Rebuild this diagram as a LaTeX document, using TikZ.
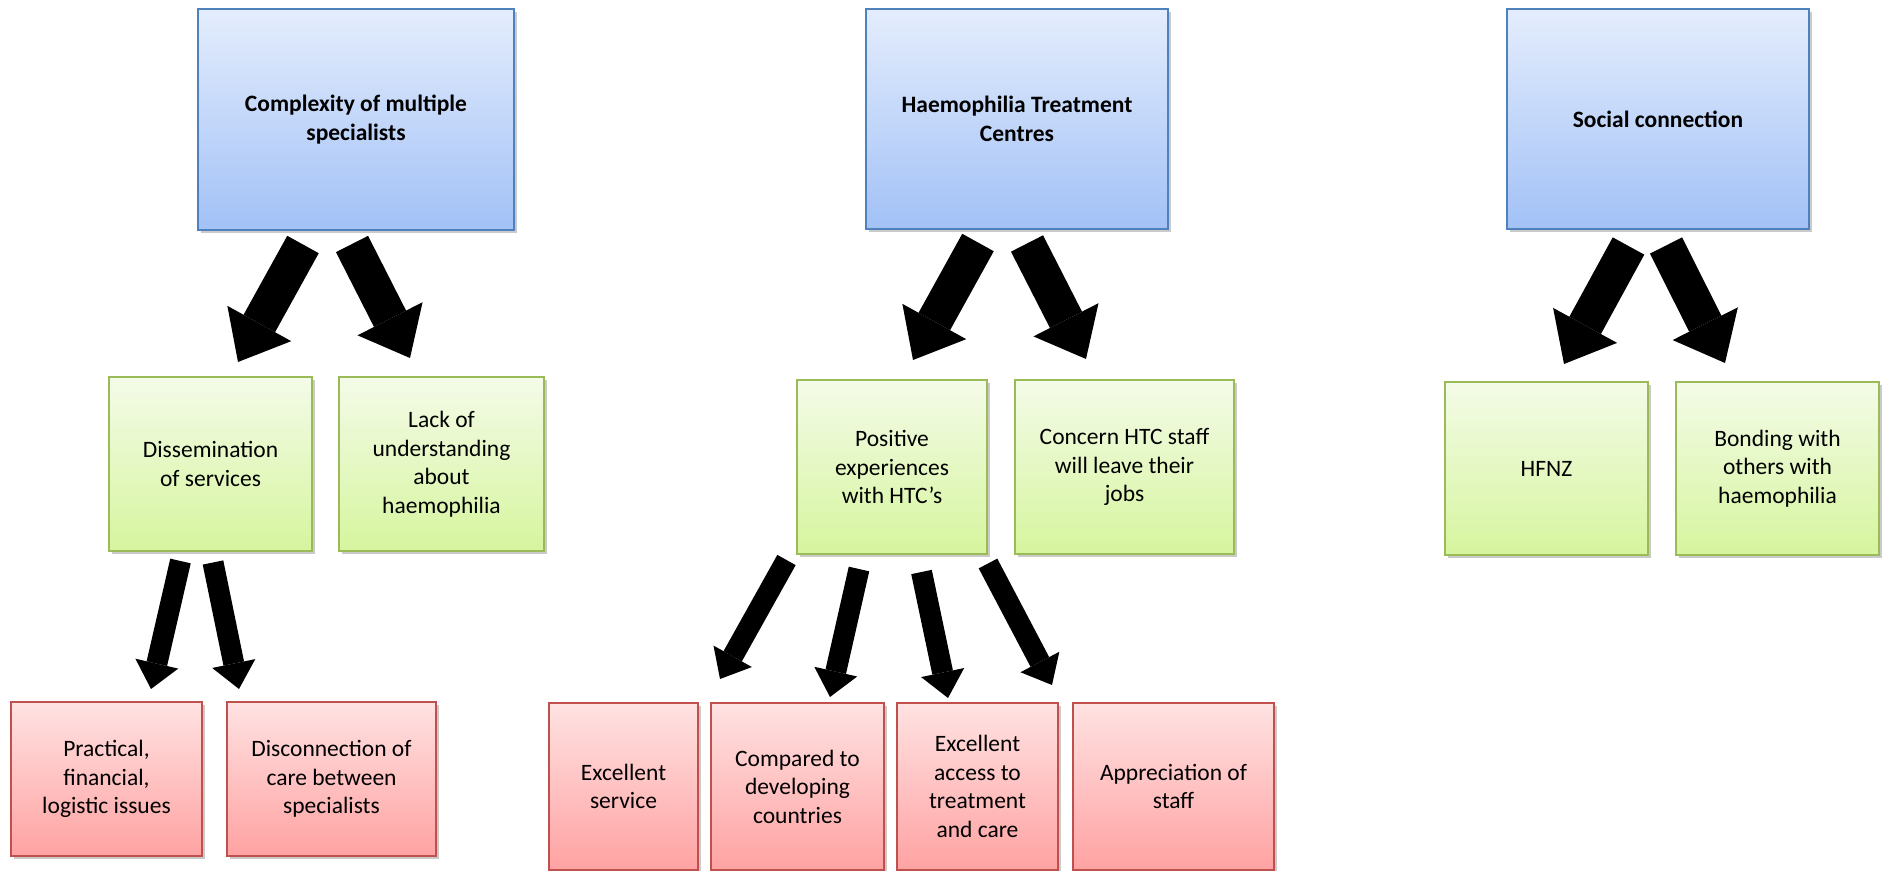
\documentclass[tikz,border=0pt]{standalone}
\usepackage{fontspec}
\setmainfont{Carlito}
\usepackage{tikz}
\usetikzlibrary{arrows.meta, positioning, shadows}
\definecolor{themeTop}{RGB}{228,237,253}
\definecolor{themeBottom}{RGB}{162,193,246}
\definecolor{themeLine}{RGB}{79,129,189}
\definecolor{subTop}{RGB}{244,251,232}
\definecolor{subBottom}{RGB}{214,245,158}
\definecolor{subLine}{RGB}{155,187,89}
\definecolor{leafTop}{RGB}{255,226,226}
\definecolor{leafBottom}{RGB}{255,162,162}
\definecolor{leafLine}{RGB}{192,80,77}
\tikzset{
  box/.style={
    line width=1pt,
    align=center,
    inner sep=2pt,
    font=\fontsize{11.75pt}{14.25pt}\selectfont,
    drop shadow={shadow xshift=1.5pt, shadow yshift=-1.5pt, opacity=.42}
  },
  themeBox/.style={box, draw=themeLine, top color=themeTop, bottom color=themeBottom,
    font=\fontsize{11.75pt}{14.25pt}\selectfont\bfseries},
  subBox/.style={box, draw=subLine, top color=subTop, bottom color=subBottom},
  leafBox/.style={box, draw=leafLine, top color=leafTop, bottom color=leafBottom},
  bigArrow/.style={-{Triangle[length=22pt, width=36.5pt, line width=0pt 0 0]}, line width=18pt, draw=black},
  smallArrow/.style={-{Triangle[length=13pt, width=22pt, line width=0pt 0 0]}, line width=10.5pt, draw=black}
}
\begin{document}
\begin{tikzpicture}[x=0.5pt, y=-0.5pt, node distance=13pt]
  \useasboundingbox (0,0) rectangle (1885,871);

  % themes
  \node[themeBox, minimum width=158pt, minimum height=110.5pt] (complexity) at (356,119.5) {Complexity of multiple\\specialists};
  \node[themeBox, minimum width=151pt, minimum height=110pt] (htc) at (1017,119) {Haemophilia Treatment\\Centres};
  \node[themeBox, minimum width=151pt, minimum height=110pt] (social) at (1658,119) {Social connection};

  % sub-themes
  \node[subBox, minimum width=101.5pt, minimum height=87pt] (dissemination) at (210.5,464) {Dissemination\\of services};
  \node[subBox, right=12.5pt of dissemination, minimum width=102.5pt, minimum height=87pt] (understanding) {Lack of\\understanding\\about\\haemophilia};
  \node[subBox, minimum width=95pt, minimum height=87pt] (positive) at (892,467) {Positive\\experiences\\with HTC’s};
  \node[subBox, right=of positive, minimum width=109.5pt, minimum height=87pt] (concern) {Concern HTC staff\\will leave their\\jobs};
  \node[subBox, minimum width=101.5pt, minimum height=86.5pt] (hfnz) at (1546.5,468.5) {HFNZ};
  \node[subBox, right=of hfnz, minimum width=101.5pt, minimum height=86.5pt] (bonding) {Bonding with\\others with\\haemophilia};

  % leaves
  \node[leafBox, minimum width=95.5pt, minimum height=77pt] (practical) at (106.5,779) {Practical,\\financial,\\logistic issues};
  \node[leafBox, right=11.5pt of practical, minimum width=104.5pt, minimum height=77pt] (disconnection) {Disconnection of\\care between\\specialists};
  \node[leafBox, minimum width=74.5pt, minimum height=83.5pt] (service) at (623.5,786.5) {Excellent\\service};
  \node[leafBox, right=5.5pt of service, minimum width=86.5pt, minimum height=83.5pt] (compared) {Compared to\\developing\\countries};
  \node[leafBox, right=5.5pt of compared, minimum width=80.5pt, minimum height=83.5pt] (access) {Excellent\\access to\\treatment\\and care};
  \node[leafBox, right=6.5pt of access, minimum width=100.5pt, minimum height=83.5pt] (appreciation) {Appreciation of\\staff};

  % arrow ends
  \coordinate (complexityL) at (303,244.5);  \coordinate (toDissemination) at (238,362);
  \coordinate (complexityR) at (352,244);    \coordinate (toUnderstanding) at (410,358);
  \coordinate (htcL) at (978,242.5);         \coordinate (toPositive) at (913,360);
  \coordinate (htcR) at (1027,243.5);        \coordinate (toConcern) at (1086,359);
  \coordinate (socialL) at (1628.5,246);     \coordinate (toHfnz) at (1564,364);
  \coordinate (socialR) at (1666,245.5);     \coordinate (toBonding) at (1725,363);
  \coordinate (disseminationL) at (180.5,561); \coordinate (toPractical) at (151,689);
  \coordinate (disseminationR) at (213,562.5); \coordinate (toDisconnection) at (239,689);
  \coordinate (positiveA) at (786.5,560);    \coordinate (toService) at (720,679);
  \coordinate (positiveB) at (859,569);      \coordinate (toCompared) at (830,697);
  \coordinate (positiveC) at (921.5,572);    \coordinate (toAccess) at (948,698);
  \coordinate (positiveD) at (988,563.5);    \coordinate (toAppreciation) at (1052,685);

  \draw[bigArrow] (complexityL) -- (toDissemination);
  \draw[bigArrow] (complexityR) -- (toUnderstanding);
  \draw[bigArrow] (htcL) -- (toPositive);
  \draw[bigArrow] (htcR) -- (toConcern);
  \draw[bigArrow] (socialL) -- (toHfnz);
  \draw[bigArrow] (socialR) -- (toBonding);
  \draw[smallArrow] (disseminationL) -- (toPractical);
  \draw[smallArrow] (disseminationR) -- (toDisconnection);
  \draw[smallArrow] (positiveA) -- (toService);
  \draw[smallArrow] (positiveB) -- (toCompared);
  \draw[smallArrow] (positiveC) -- (toAccess);
  \draw[smallArrow] (positiveD) -- (toAppreciation);
\end{tikzpicture}
\end{document}
